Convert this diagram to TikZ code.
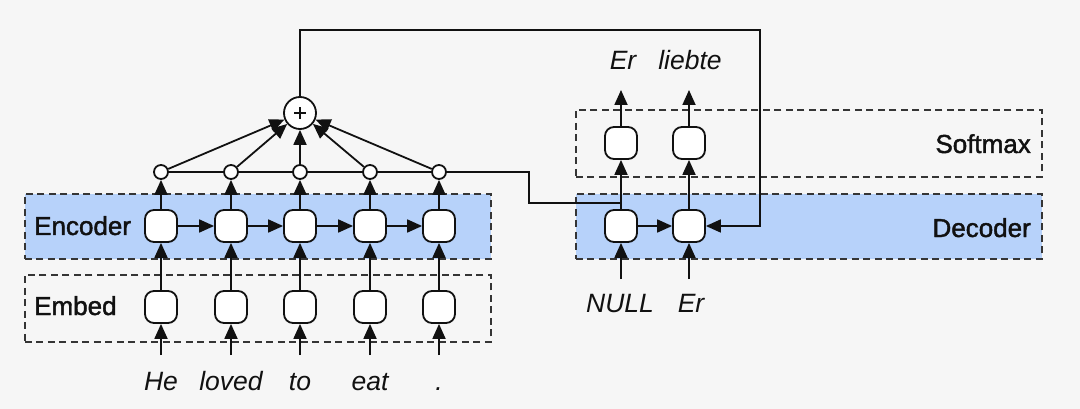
\documentclass[tikz,border=0pt]{standalone}
\usepackage{fontspec}
\setmainfont{Liberation Sans}
\newfontfamily\medfont[FakeBold=1.6]{Liberation Sans}
\usetikzlibrary{arrows.meta}
\definecolor{bg}{HTML}{F6F6F6}
\definecolor{blu}{HTML}{B7D2FA}
\definecolor{ink}{HTML}{111111}
\begin{document}
\begin{tikzpicture}[x=1pt,y=-1pt,
  cell/.style={draw=ink, fill=white, rounded corners=9pt, minimum width=32pt, minimum height=32pt, line width=1.8pt, inner sep=0pt},
  layer/.style={draw=ink!85, dash pattern=on 7pt off 4.5pt, line width=1.8pt, inner sep=0pt, anchor=north west},
  con/.style={draw=ink, line width=1.8pt},
  arr/.style={con, -{Triangle[length=15pt,width=13pt]}},
  lab/.style={font=\medfont\fontsize{26}{28}\selectfont, inner sep=0pt, text=ink},
  word/.style={font=\fontsize{26.5}{28}\selectfont\itshape, inner sep=0pt, anchor=base, text=ink},
  dot/.style={circle, draw=ink, fill=white, line width=1.8pt, minimum size=14pt, inner sep=0pt},
  sumc/.style={circle, draw=ink, fill=white, line width=1.8pt, minimum size=32pt, inner sep=0pt,
    path picture={\draw[ink, line width=1.9pt] ([xshift=-6pt]path picture bounding box.center) -- ([xshift=6pt]path picture bounding box.center)
      ([yshift=-6pt]path picture bounding box.center) -- ([yshift=6pt]path picture bounding box.center);}}]
\fill[bg] (0,0) rectangle (1080,409);
\useasboundingbox (0,0) rectangle (1080,409);

% layers
\node[layer, fill=blu, minimum width=466pt, minimum height=65pt] (enc) at (24,193) {};
\node[layer, minimum width=466pt, minimum height=67pt] (emb) at (24,274) {};
\node[layer, fill=blu, minimum width=466pt, minimum height=65pt] (dec) at (575,193) {};
\node[layer, minimum width=466pt, minimum height=67pt] (sm) at (575,109) {};

\node[lab, anchor=base west] (lenc) at (34,235) {Encoder};
\node[lab, anchor=base west] (lemb) at (34,315) {Embed};
\node[lab, anchor=base east] (ldec) at (1031,237) {Decoder};
\node[lab, anchor=base east] (lsm) at (1031,153) {Softmax};

% encoder side
\foreach \i/\x/\w in {1/161/He,2/231/loved,3/300/to,4/370/eat,5/439/.} {
  \node[cell] (e\i) at (\x,226) {};
  \node[cell] (m\i) at (\x,307) {};
  \node[dot] (c\i) at (\x,172) {};
  \node[word] (w\i) at (\x,390) {\w};
  \coordinate (s\i) at (\x,355);
  \draw[arr] (s\i) -- (m\i.south);
  \draw[arr] (m\i.north) -- (e\i.south);
  \draw[arr] (e\i.north) -- (c\i.south);
}
\foreach \i/\j in {1/2,2/3,3/4,4/5} {
  \draw[arr] (e\i.east) -- (e\j.west);
  \draw[con] (c\i.east) -- (c\j.west);
}
\node[sumc] (sum) at (300,113) {};
\foreach \i in {1,2,3,4,5} \draw[arr] (c\i) -- (sum);

% decoder side
\node[cell] (d1) at (621,226) {};
\node[cell] (d2) at (689,226) {};
\node[cell] (t1) at (621,143) {};
\node[cell] (t2) at (689,143) {};
\coordinate (i1) at (621,279);
\coordinate (i2) at (689,279);
\coordinate (o1) at (621,90);
\coordinate (o2) at (689,90);
\node[word] (n1) at (620,312) {NULL};
\node[word] (n2) at (691,312) {Er};
\node[word] (u1) at (623,70) {Er};
\node[word] (u2) at (690,70) {liebte};
\draw[arr] (i1) -- (d1.south);
\draw[arr] (i2) -- (d2.south);
\draw[arr] (d1.north) -- (t1.south);
\draw[arr] (d2.north) -- (t2.south);
\draw[arr] (t1.north) -- (o1);
\draw[arr] (t2.north) -- (o2);
\draw[arr] (d1.east) -- (d2.west);

% attention connections
\coordinate (bend) at (529,203);
\draw[con] (c5.east) -| (bend) -- (bend -| d1);
\coordinate (top) at (760,30);
\draw[arr] (sum.north) |- (top) |- (d2.east);
\end{tikzpicture}
\end{document}
